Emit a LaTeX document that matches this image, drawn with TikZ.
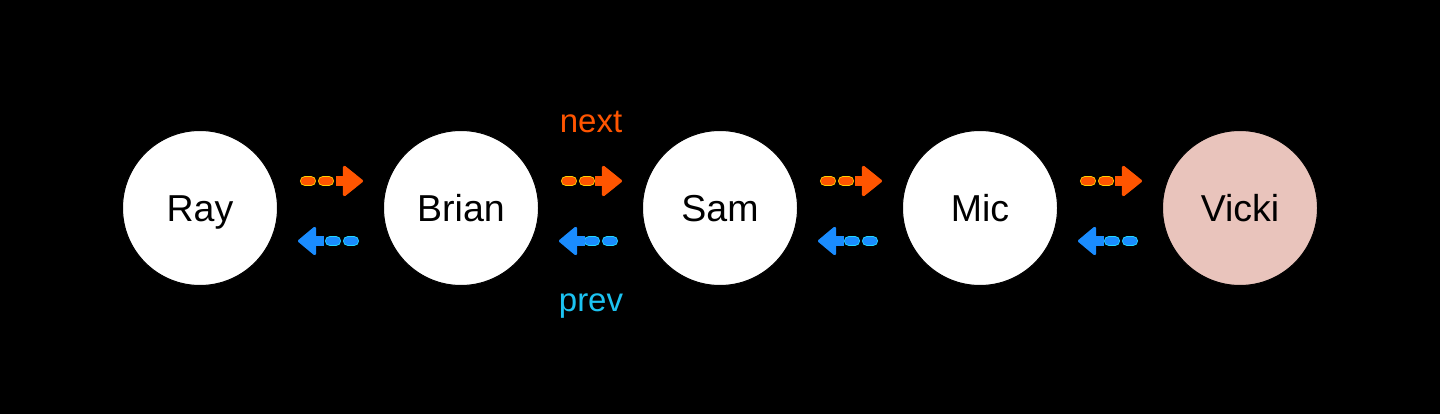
\documentclass[tikz,border=0pt]{standalone}
\usepackage{fontspec}
\setmainfont{Liberation Sans}
\usetikzlibrary{arrows.meta}
\definecolor{nextc}{HTML}{FF5500}
\definecolor{nexto}{HTML}{FFD000}
\definecolor{prevc}{HTML}{1A8CFF}
\definecolor{prevo}{HTML}{22D8FF}
\definecolor{prevt}{HTML}{1CC3F2}
\definecolor{vickic}{HTML}{E9C4BC}
\begin{document}
\begin{tikzpicture}[x=1pt,y=-1pt,
  person/.style={circle, draw=black, line width=1pt, fill=white, minimum size=155pt,
    inner sep=0pt, text height=27pt, text depth=0pt, font=\fontsize{37.5}{42}\selectfont},
  nextarrow/.style={line width=0.8pt, draw=nexto, double=nextc, double distance=8.5pt,
    line cap=round, dash pattern=on 6pt off 12pt,
    shorten <=27pt, shorten >=20pt,
    -{Rectangle[length=7pt,width=10pt,line width=0.8pt,fill=nextc,color=nextc]
      Triangle[length=21pt,width=33pt,line width=3pt,round,fill=nextc,color=nextc]}},
  prevarrow/.style={line width=0.8pt, draw=prevo, double=prevc, double distance=8.5pt,
    line cap=round, dash pattern=on 6pt off 12pt,
    shorten <=29pt, shorten >=20pt,
    -{Rectangle[length=8pt,width=10pt,line width=0.8pt,fill=prevc,color=prevc]
      Triangle[length=19pt,width=31pt,line width=3pt,round,fill=prevc,color=prevc]}},
  lbl/.style={anchor=base, font=\fontsize{33}{38}\selectfont, inner sep=0pt}
]
\fill[black] (0,0) rectangle (1440,414);
\useasboundingbox (0,0) rectangle (1440,414);

\node[person] (ray)   at (200,208) {Ray};
\node[person] (brian) at (461,208) {Brian};
\node[person] (sam)   at (720,208) {Sam};
\node[person] (mic)   at (980,208) {Mic};
\node[person, fill=vickic] (vicki) at (1240,208) {Vicki};

\foreach \a/\b in {ray/brian, brian/sam, sam/mic, mic/vicki}{
  \draw[nextarrow] ([yshift=27pt]\a.east) -- ([yshift=27pt]\b.west);
  \draw[prevarrow] ([yshift=-33pt]\b.west) -- ([yshift=-33pt]\a.east);
}

\node[lbl, text=nextc] (nextlbl) at (591,133) {next};
\node[lbl, text=prevt] (prevlbl) at (591,311) {prev};
\end{tikzpicture}
\end{document}
